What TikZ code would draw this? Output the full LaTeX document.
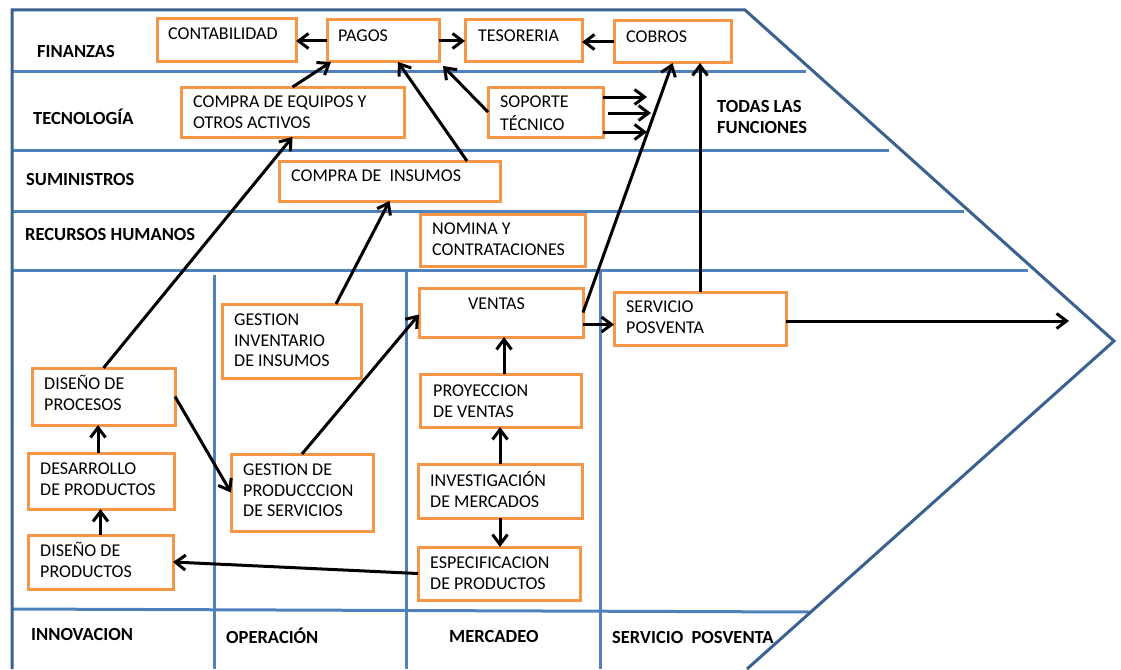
\documentclass[tikz,border=0pt]{standalone}
\usepackage{fontspec}
\setmainfont{Carlito}
\usetikzlibrary{arrows.meta,calc}
\definecolor{borderblue}{HTML}{3A6190}
\definecolor{lineblue}{HTML}{4F81BD}
\definecolor{boxorange}{HTML}{F79646}
\begin{document}
\begin{tikzpicture}[x=1pt,y=-1pt,
  outerline/.style={draw=borderblue,line width=3pt,line join=miter},
  laneline/.style={draw=lineblue,line width=3pt},
  box/.style={draw=boxorange,line width=3pt,fill=white,inner sep=0pt,outer sep=0pt},
  boxtext/.style={anchor=north west,inner sep=0pt,align=left,font=\fontsize{18}{20.5}\selectfont},
  lanetext/.style={anchor=north west,inner sep=0pt,align=left,font=\fontsize{18.5}{21}\selectfont\bfseries},
  arr/.style={draw=black,line width=3pt,-{Straight Barb[length=10pt,width=15pt]}},
]
\useasboundingbox (0,0) rectangle (1121,669);

% lanes
\draw[laneline] (12,71) -- (806,71);
\draw[laneline] (12,150) -- (889,150);
\draw[laneline] (12,211) -- (964,211);
\draw[laneline] (12,270) -- (1028,270);
\draw[laneline] (12,609) -- (810,612);
\draw[laneline] (214,275) -- (214,669);
\draw[laneline] (406,270) -- (406,669);
\draw[laneline] (600,270) -- (600,669);
\draw[outerline] (12,669) -- (12,10) -- (745,10) -- (1114,341) -- (747,669);

% lane labels
\node[lanetext] (lfin) at (37,42.6) {\strut FINANZAS};
\node[lanetext] (ltec) at (33,108.6) {\strut TECNOLOGÍA};
\node[lanetext] (lsum) at (26,170.6) {\strut SUMINISTROS};
\node[lanetext] (lrh) at (25,226) {\strut RECURSOS HUMANOS};
\node[lanetext] (ltodas) at (717,97.6) {\strut TODAS LAS\\FUNCIONES};
\node[lanetext] (linn) at (31,625.3) {\strut INNOVACION};
\node[lanetext] (lope) at (226,628) {\strut OPERACIÓN};
\node[lanetext] (lmer) at (449,628) {\strut MERCADEO};
\node[lanetext] (lserv) at (612,628.6) {\strut SERVICIO\ \ POSVENTA};

% boxes
\node[box,minimum width=139pt,minimum height=43pt] (contab) at (226.5,40.5) {};
\node[box,minimum width=112pt,minimum height=42pt] (pagos) at (383,41) {};
\node[box,minimum width=117pt,minimum height=42pt] (tesor) at (523.5,41) {};
\node[box,minimum width=117pt,minimum height=42pt] (cobros) at (672.5,42) {};
\node[box,minimum width=223pt,minimum height=50pt] (equipos) at (292.5,112) {};
\node[box,minimum width=115pt,minimum height=50pt] (soporte) at (545.5,112) {};
\node[box,minimum width=221pt,minimum height=40pt] (insumos) at (389.5,181) {};
\node[box,minimum width=165pt,minimum height=52pt] (nomina) at (502.5,240) {};
\node[box,minimum width=139pt,minimum height=74pt] (gestinv) at (291.5,341) {};
\node[box,minimum width=143pt,minimum height=57pt] (dproc) at (103.5,396.5) {};
\node[box,minimum width=146pt,minimum height=56pt] (desarr) at (101,481) {};
\node[box,minimum width=145pt,minimum height=54pt] (dprod) at (100.5,562) {};
\node[box,minimum width=142pt,minimum height=77pt] (gprod) at (302,492.5) {};
\node[box,minimum width=164pt,minimum height=49pt] (ventas) at (501,312.5) {};
\node[box,minimum width=172pt,minimum height=53pt] (posv) at (700,318.5) {};
\node[box,minimum width=161pt,minimum height=53pt] (proy) at (500.5,400.5) {};
\node[box,minimum width=164pt,minimum height=54pt] (invest) at (500,491) {};
\node[box,minimum width=162pt,minimum height=53pt] (espec) at (499,573.5) {};

% box texts
\node[boxtext] (tcontab) at (168,25) {\strut CONTABILIDAD};
\node[boxtext] (tpagos) at (338,26.6) {\strut PAGOS};
\node[boxtext] (ttesor) at (478,26.6) {\strut TESORERIA};
\node[boxtext] (tcobros) at (626,27.6) {\strut COBROS};
\node[boxtext] (tequipos) at (193,93.3) {\strut COMPRA DE EQUIPOS Y\\OTROS ACTIVOS};
\node[boxtext] (tsoporte) at (500,93.3) {\strut SOPORTE\\TÉCNICO};
\node[boxtext] (tinsumos) at (291,167.3) {\strut COMPRA DE\ \ INSUMOS};
\node[boxtext] (tnomina) at (432,220) {\strut NOMINA Y\\CONTRATACIONES};
\node[boxtext] (tgestinv) at (234,311.3) {\strut GESTION\\INVENTARIO\\DE INSUMOS};
\node[boxtext] (tdproc) at (44,375) {\strut DISEÑO DE\\PROCESOS};
\node[boxtext] (tdesarr) at (40,460) {\strut DESARROLLO\\DE PRODUCTOS};
\node[boxtext] (tdprod) at (40,542.3) {\strut DISEÑO DE\\PRODUCTOS};
\node[boxtext] (tgprod) at (243,461) {\strut GESTION DE\\PRODUCCCION\\DE SERVICIOS};
\node[boxtext] (tventas) at (468,295) {\strut VENTAS};
\node[boxtext] (tposv) at (626,298) {\strut SERVICIO\\POSVENTA};
\node[boxtext] (tproy) at (433,382.3) {\strut PROYECCION\\DE VENTAS};
\node[boxtext] (tinvest) at (430,471.7) {\strut INVESTIGACIÓN\\DE MERCADOS};
\node[boxtext] (tespec) at (430,554) {\strut ESPECIFICACION\\DE PRODUCTOS};

% connectors
\draw[arr] (pagos.west) -- (pagos.west -| contab.east);
\draw[arr] (pagos.east) -- (pagos.east -| tesor.west);
\draw[arr] (cobros.west) -- (cobros.west -| tesor.east);
\draw[arr] (equipos.north) -- ([xshift=4pt]pagos.south west);
\draw[arr] ([xshift=-33pt]insumos.north east) -- ([xshift=15pt]pagos.south);
\draw[arr] (soporte.west) -- ([xshift=4pt,yshift=-4pt]pagos.south east);
\coordinate (t1) at (647,97);
\coordinate (t2) at (651,113);
\coordinate (t3) at (647,132);
\draw[arr] (soporte.east |- t1) -- (t1);
\draw[arr] ([xshift=5pt,yshift=-1pt]soporte.east) -- (t2);
\draw[arr] (soporte.east |- t3) -- (t3);
\draw[arr] (ventas.east) -- (cobros.south);
\draw[arr] (posv.north) -- (posv.north |- cobros.south);
\coordinate (v1) at ([yshift=-12pt]ventas.east);
\draw[arr] (v1) -- (v1 -| posv.west);
\coordinate (out) at (1069,321);
\draw[arr] (posv.east |- out) -- (out);
\draw[arr] (dproc.north) -- (equipos.south);
\draw[arr] ([xshift=-25pt]gestinv.north east) -- (insumos.south);
\draw[arr] (dproc.east) -- (gprod.west);
\draw[arr] (gprod.north) -- ([yshift=-2pt]ventas.west);
\coordinate (d1) at ([xshift=-3pt]desarr.north);
\draw[arr] (d1) -- (d1 |- dproc.south);
\draw[arr] (dprod.north) -- (dprod.north |- desarr.south);
\draw[arr] (espec.west) -- (dprod.east);
\coordinate (p1) at ([xshift=3.5pt]proy.north);
\draw[arr] (p1) -- (p1 |- ventas.south);
\draw[arr] (invest.north) -- (invest.north |- proy.south);
\draw[arr] (invest.south) -- (invest.south |- espec.north);
\end{tikzpicture}
\end{document}
